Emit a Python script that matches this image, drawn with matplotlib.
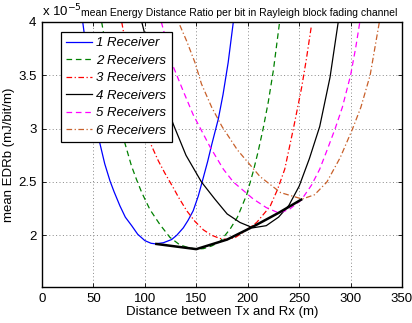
import matplotlib
matplotlib.use("Agg")
import matplotlib.pyplot as plt
from matplotlib.ticker import FormatStrFormatter

plt.rcParams['font.family'] = ['Liberation Sans', 'DejaVu Sans']

# distance (m) / EDRb (x 1e-5 mJ/bit/m)
x1 = [39.6, 45, 50, 55.7, 61, 66.1, 70, 75.8, 81, 87.2, 93, 100, 106, 110, 118, 126, 131,
      137.4, 142, 147, 152, 156.8, 161, 165, 171.4, 176, 181, 186]
y1 = [4.0, 3.6, 3.25, 2.885, 2.67, 2.51, 2.41, 2.275, 2.17, 2.09, 2.01, 1.95, 1.925, 1.92,
      1.93, 1.96, 2.0, 2.07, 2.14, 2.23, 2.37, 2.54, 2.69, 2.85, 3.09, 3.32, 3.62, 4.0]

x2 = [58, 66, 74, 80.7, 87, 92, 97, 105, 114.7, 124.4, 134, 142, 150, 157, 165, 173, 183,
      190, 199, 205.4, 210, 215, 220, 225, 231]
y2 = [4.0, 3.55, 3.15, 2.86, 2.65, 2.52, 2.40, 2.24, 2.10, 1.98, 1.91, 1.885, 1.87, 1.875,
      1.90, 1.94, 2.06, 2.17, 2.38, 2.60, 2.78, 3.0, 3.25, 3.55, 4.0]

x3 = [77.5, 85, 93, 100, 106, 113, 119.6, 124.4, 128, 132.5, 140.7, 148.7, 157, 165, 173,
      180, 188, 196, 208.7, 221.7, 229, 236, 244.4, 249, 252.5, 257, 262]
y3 = [4.0, 3.6, 3.25, 3.02, 2.85, 2.70, 2.58, 2.50, 2.44, 2.36, 2.23, 2.13, 2.05, 2.0, 1.97,
      1.96, 1.98, 2.03, 2.12, 2.27, 2.43, 2.62, 3.0, 3.22, 3.39, 3.65, 3.97]

x4 = [97, 110, 127.7, 140, 155, 168, 180, 192.5, 205, 218, 230, 240, 250, 260, 270, 280, 288]
y4 = [4.0, 3.5, 3.04, 2.75, 2.50, 2.34, 2.20, 2.12, 2.07, 2.09, 2.17, 2.28, 2.46, 2.72, 3.02,
      3.48, 4.0]

x5 = [116, 127.7, 137.4, 147, 156.8, 163.3, 176.3, 186, 205.4, 218, 230, 240, 252, 262, 270,
      278, 285, 292, 300, 305, 309]
y5 = [4.0, 3.58, 3.35, 3.13, 2.95, 2.83, 2.62, 2.50, 2.34, 2.26, 2.21, 2.24, 2.33, 2.47, 2.62,
      2.82, 3.0, 3.2, 3.5, 3.76, 4.0]

x6 = [134, 140.7, 148.7, 155, 165, 175, 190, 212, 232, 253, 265, 277, 290, 302, 310, 319, 328]
y6 = [3.97, 3.82, 3.62, 3.42, 3.2, 3.02, 2.8, 2.55, 2.40, 2.34, 2.38, 2.5, 2.73, 3.0, 3.2,
      3.5, 4.0]

# minima of each curve joined by the thick line
x_opt = [110, 150, 180, 205, 230, 253]
y_opt = [1.92, 1.87, 1.96, 2.08, 2.21, 2.34]

labels = ['1 Receiver', '2 Receivers', '3 Receivers', '4 Receivers', '5 Receivers', '6 Receivers']
colors = ['#0000ff', '#008000', '#ff0000', '#000000', '#ff00ff', '#c8602a']
dashed = (0, (4.5, 3))
dashdot = (0, (4.5, 2, 1, 2))
styles = ['-', dashed, dashdot, '-', dashed, dashdot]

fig = plt.figure(figsize=(4.12, 3.23), dpi=100)
ax = fig.add_axes([42 / 412, 36 / 323, 360 / 412, 265 / 323])

series = [(x1, y1), (x2, y2), (x3, y3), (x4, y4), (x5, y5), (x6, y6)]
for (xs, ys), lab, c, ls in zip(series, labels, colors, styles):
    ax.plot(xs, ys, color=c, linestyle=ls, lw=0.9, label=lab)
ax.plot(x_opt, y_opt, color='black', lw=1.8, solid_capstyle='butt')

ax.set_xlim(0, 350)
ax.set_ylim(1.515, 4)
ax.set_xticks(range(0, 351, 50))
ax.set_yticks([2, 2.5, 3, 3.5, 4])
ax.yaxis.set_major_formatter(FormatStrFormatter('%g'))
ax.tick_params(direction='in', length=3, width=0.6, labelsize=9.5, top=True, right=True, pad=4)
ax.grid(True, linestyle=(0, (1, 2.5)), color='#888888', lw=0.7)
for s in ax.spines.values():
    s.set_linewidth(1.0)

ax.set_xlabel('Distance between Tx and Rx (m)', fontsize=9.5, labelpad=1)
ax.set_ylabel('mean EDRb (mJ/bit/m)', fontsize=9.5)
ax.yaxis.set_label_coords(-0.075, 0.5)

fig.text(42 / 412, 1 - 16 / 323, r'x 10$^{-5}$', fontsize=9.5, ha='left', va='baseline')
fig.text(81 / 412, 1 - 16 / 323, 'mean Energy Distance Ratio per bit in Rayleigh block fading channel',
         fontsize=7.5, ha='left', va='baseline')

leg = ax.legend(loc='upper left', bbox_to_anchor=(0.052, 0.963), borderaxespad=0,
                prop={'size': 9.5, 'style': 'italic'}, handlelength=2.0, handletextpad=0.3,
                labelspacing=0.4, borderpad=0.4, fancybox=False, framealpha=1)
leg.get_frame().set_edgecolor('black')
leg.get_frame().set_linewidth(0.9)

fig.savefig('out.png', dpi=100)
